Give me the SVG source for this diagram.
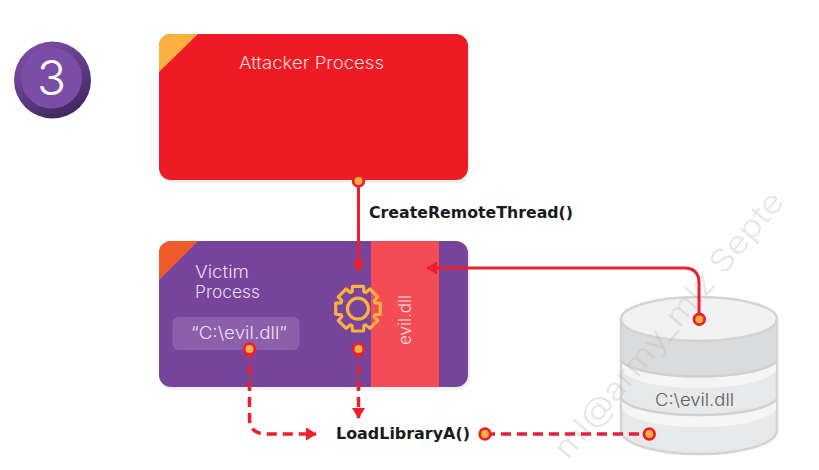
<svg xmlns="http://www.w3.org/2000/svg" width="819" height="470" viewBox="0 0 819 470">
  <style>
    text { font-family: "Inter", "Open Sans", "Liberation Sans", sans-serif; font-weight: 300; }
    .lbl { fill: #e6dcef; font-size: 17px; }
    .fn { fill: #1a1a1c; font-size: 15px; font-weight: 700; font-family: "DejaVu Sans", "Liberation Sans", sans-serif; }
    .solid { fill: none; stroke: #ee1f2d; stroke-width: 3; }
    .dash { fill: none; stroke: #ee1f2d; stroke-width: 3.500; stroke-dasharray: 10 6; }
    .dot { fill: #fbb040; stroke: #ee1f2d; stroke-width: 2.800; }
    .shelf { fill: none; stroke: #cfd1d2; stroke-width: 2.500; }
  </style>
  <defs>
    <marker id="arrow" markerWidth="11" markerHeight="13" refX="10" refY="6.500" orient="auto" markerUnits="userSpaceOnUse" viewBox="0 0 11 13">
      <path d="M0 0L11 6.500L0 13Z" fill="#ee1f2d"/>
    </marker>
    <linearGradient id="rim" x1="0.2" y1="0" x2="0.75" y2="1">
      <stop offset="0" stop-color="#7f4fa8"/><stop offset="0.55" stop-color="#5d3a86"/><stop offset="1" stop-color="#3c2559"/>
    </linearGradient>
    <clipPath id="atkClip"><rect x="159" y="34" width="309" height="146" rx="12"/></clipPath>
    <clipPath id="vicClip"><rect x="159" y="241" width="309" height="146" rx="12"/></clipPath>
    <path id="tooth" d="M-6.890 -16.630L-5.860 -17.020L-5.560 -22.320L5.560 -22.320L5.860 -17.020L6.890 -16.630"/>
  </defs>
  <rect width="819" height="470" fill="#ffffff"/>

  <g id="badge">
    <circle cx="52.500" cy="80" r="38.500" fill="url(#rim)"/>
    <circle cx="51.500" cy="78" r="30.500" fill="#7a4ea6"/>
    <text x="51.500" y="95" text-anchor="middle" font-size="48" fill="#ffffff">3</text>
  </g>

  <g id="attacker">
    <rect x="161" y="37" width="309" height="146" rx="12" fill="#f0f0f0"/>
    <rect x="159" y="34" width="309" height="146" rx="12" fill="#ed1c24"/>
    <path d="M159 72L159 34L198 34Z" fill="#fbb040" clip-path="url(#atkClip)"/>
    <text x="239" y="69" font-size="17" fill="#f9d5d5" textLength="145" lengthAdjust="spacingAndGlyphs">Attacker Process</text>
  </g>

  <g id="victim">
    <rect x="161" y="244" width="309" height="146" rx="12" fill="#eff0ef"/>
    <rect x="159" y="241" width="309" height="146" rx="12" fill="#76459b"/>
    <path d="M159 280L159 241L198 241Z" fill="#f15a29" clip-path="url(#vicClip)"/>
    <text class="lbl" x="195" y="278" textLength="54" lengthAdjust="spacingAndGlyphs">Victim</text>
    <text class="lbl" x="195" y="297.500" textLength="65" lengthAdjust="spacingAndGlyphs">Process</text>
  </g>

  <g id="evil-dll-section">
    <rect x="371" y="241" width="68" height="146" fill="#f34c55"/>
    <text transform="translate(411 345) rotate(-90)" font-size="17" fill="#fbdfe1" textLength="50" lengthAdjust="spacingAndGlyphs">evil.dll</text>
  </g>

  <g id="path-string">
    <rect x="172.500" y="317" width="127" height="33" rx="6" fill="#8c5fab"/>
    <text x="191" y="338.500" font-size="17" fill="#eadff1" textLength="96" lengthAdjust="spacingAndGlyphs">“C:\evil.dll”</text>
  </g>

  <g id="gear" fill="none" stroke="#fbb040" stroke-width="3.200" stroke-linejoin="round" stroke-linecap="round">
    <circle cx="358" cy="308.700" r="10.500"/>
    <g transform="translate(358 308.700)">
      <use href="#tooth"/>
      <use href="#tooth" transform="rotate(45)"/>
      <use href="#tooth" transform="rotate(90)"/>
      <use href="#tooth" transform="rotate(135)"/>
      <use href="#tooth" transform="rotate(180)"/>
      <use href="#tooth" transform="rotate(225)"/>
      <use href="#tooth" transform="rotate(270)"/>
      <use href="#tooth" transform="rotate(315)"/>
    </g>
  </g>

  <g id="disk">
    <path d="M621 319V430C621 444 656 454 699 454C742 454 777 444 777 430V319Z" fill="#e8e9ea" stroke="#d2d4d5" stroke-width="2.500"/>
    <path d="M622 324V360C630 370 660 376.500 699 376.500C738 376.500 768 370 776 360V324Z" fill="#dadbdc"/>
    <path d="M622 362C630 371 660 377.500 699 377.500C738 377.500 768 371 776 362V371C768 381 738 388 699 388C660 388 630 381 622 371Z" fill="#f5f5f5"/>
    <path d="M622 400C630 410 660 416 699 416C738 416 768 410 776 400V409C768 420 738 427 699 427C660 427 630 420 622 409Z" fill="#f5f5f5"/>
    <path class="shelf" d="M621 361C630 370 660 376.500 699 376.500C738 376.500 768 370 777 361"/>
    <path class="shelf" d="M621 399C630 409 660 415 699 415C738 415 768 409 777 399"/>
    <ellipse cx="699" cy="319" rx="78" ry="22" fill="#f2f2f2" stroke="#d2d4d5" stroke-width="2.500"/>
    <text x="655" y="406" font-size="17" fill="#5c5e60" textLength="79" lengthAdjust="spacingAndGlyphs">C:\evil.dll</text>
  </g>

  <text id="watermark" transform="translate(568 461) rotate(-50)" font-size="31" fill="#b9b9b5" fill-opacity="0.36" textLength="338" lengthAdjust="spacingAndGlyphs">ml@army_mlz Septe</text>

  <g id="connectors">
    <path class="solid" d="M358.500 181V271" marker-end="url(#arrow)"/>
    <path class="solid" d="M699 319V283Q699 268 684 268H427" marker-end="url(#arrow)"/>
    <path class="dash" d="M358.500 349V418" marker-end="url(#arrow)"/>
    <path class="dash" d="M249.500 349V418Q249.500 434 266 434H316" marker-end="url(#arrow)"/>
    <path class="dash" d="M485 434H649"/>
    <circle class="dot" cx="358.500" cy="181" r="5.300"/>
    <circle class="dot" cx="699.300" cy="319.300" r="5.300"/>
    <circle class="dot" cx="249.500" cy="349" r="5.300"/>
    <circle class="dot" cx="358.500" cy="349" r="5.300"/>
    <circle class="dot" cx="485" cy="434" r="5.300"/>
    <circle class="dot" cx="649.300" cy="434" r="5.300"/>
  </g>

  <g id="labels">
    <text class="fn" x="369" y="218" textLength="204" lengthAdjust="spacingAndGlyphs">CreateRemoteThread()</text>
    <text class="fn" x="336" y="439" textLength="134" lengthAdjust="spacingAndGlyphs">LoadLibraryA()</text>
  </g>
</svg>
